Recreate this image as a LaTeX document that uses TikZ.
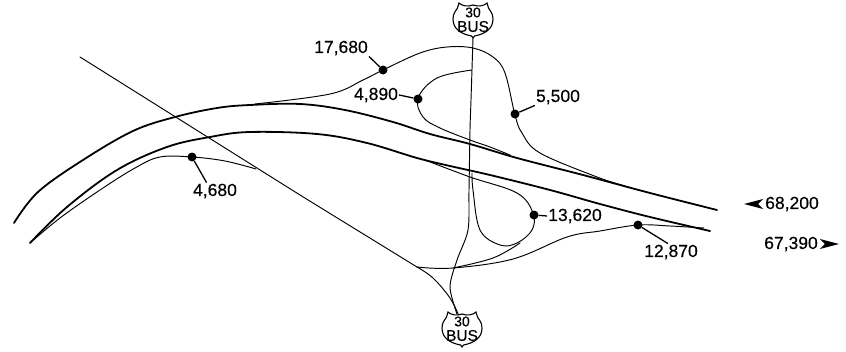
\documentclass[tikz,border=0pt]{standalone}
\usepackage{fontspec}
\setmainfont[FakeBold=0.35]{Liberation Sans}
\tikzset{
  road/.style={line width=1.8pt,line cap=round,line join=round},
  ramp/.style={line width=0.95pt,line cap=round,line join=round},
  leader/.style={line width=1.3pt},
  dotnode/.style={circle,fill=black,inner sep=0pt,minimum size=9pt},
  vol/.style={font=\fontsize{17.5}{18}\selectfont,inner sep=1pt,text=black},
  shieldtext/.style={inner sep=0pt,text=black},
  dirtip/.style={fill=black,draw=none},
  pics/shield/.style={code={
    \draw[line width=1.1pt,fill=white]
      (0,18) -- (-1.5,16) .. controls (-12,14) and (-20,9) .. (-20,-1)
      .. controls (-20,-7) and (-17,-9) .. (-15.5,-12) -- (-14,-17)
      .. controls (-11,-14) and (-5,-13) .. (0,-15)
      .. controls (5,-13) and (11,-14) .. (14,-17) -- (15.5,-12)
      .. controls (17,-9) and (20,-7) .. (20,-1)
      .. controls (20,9) and (12,14) .. (1.5,16) -- cycle;
    \node[shieldtext,font=\fontsize{14}{14}\selectfont] (-num) at (0,-7.5) {30};
    \node[shieldtext,font=\fontsize{15.5}{16}\selectfont] (-bus) at (0,6.5) {BUS};
  }}
}
\begin{document}
\begin{tikzpicture}[x=1pt,y=-1pt]
\useasboundingbox (0,0) rectangle (846,351);
% main carriageways
\draw[road] plot[smooth,tension=0.6] coordinates {(14,223) (38,192) (83,160) (133,131) (175,117) (217,108) (250,105) (300,104) (345,110) (393,122) (430,134) (470,144) (517,158) (583,175) (650,193) (717,210)};
\draw[road] plot[smooth,tension=0.6] coordinates {(30,243) (67,207) (117,170) (167,147) (210,137) (250,132) (317,134) (367,143) (417,158) (450,166) (490,175) (550,190) (600,204) (650,217) (710,231)};
% long diagonal and 4,680 ramp
\draw[ramp] (80,57) -- (300,195) -- (417,267);
\draw[ramp] plot[smooth,tension=0.6] coordinates {(30,243) (60,218) (100,190) (135,168) (160,157) (192,157) (225,161) (256,169)};
% south-side ramps
\draw[ramp] plot[smooth,tension=0.6] coordinates {(417,267) (453,268) (513,259) (567,237) (600,231) (638,225) (670,226) (704,228)};
\draw[ramp] plot[smooth,tension=0.6] coordinates {(417,267) (433,278) (450,298) (459,316)};
% vertical road
\draw[ramp] plot[smooth,tension=0.5] coordinates {(473,38) (471,100) (470,130) (469,190) (468,230) (457,260) (450,287) (457,314)};
% 13,620 loop
\draw[ramp] plot[smooth,tension=0.6] coordinates {(425,160) (470,177) (517,193) (533,213) (532,230) (517,243) (500,245) (480,230) (473,190) (472,173)};
\draw[ramp] plot[smooth,tension=0.6] coordinates {(520,243) (493,258) (453,268)};
% north-side ramps
\draw[ramp] plot[smooth,tension=0.6] coordinates {(255,104) (330,94) (363,80) (383,70) (420,53) (447,47) (473,48) (493,57) (505,73) (515,115) (522,133) (540,153) (597,177) (625,186)};
\draw[ramp] plot[smooth,tension=0.6] coordinates {(472,70) (437,78) (418,98) (423,117) (440,128) (470,140) (490,147) (510,155)};
% shields
\pic (north) at (473,20) {shield};
\pic (south) at (462,329) {shield};
% count points
\node[dotnode] (d17) at (383,70) {};
\node[dotnode] (d48) at (418,99) {};
\node[dotnode] (d55) at (515,114) {};
\node[dotnode] (d46) at (192,157) {};
\node[dotnode] (d13) at (534,215) {};
\node[dotnode] (d12) at (638,225) {};
% labels
\node[vol] (t17) at (341,48) {17,680};
\node[vol] (t48) at (376,95) {4,890};
\node[vol] (t55) at (558,97) {5,500};
\node[vol] (t46) at (215,191) {4,680};
\node[vol] (t13) at (575,216) {13,620};
\node[vol] (t12) at (671,252) {12,870};
\node[vol] (t68) at (792,204) {68,200};
\node[vol] (t67) at (791,244) {67,390};
% leaders
\draw[leader] (d17) -- (t17.south east);
\draw[leader] (d48) -- (t48.east);
\draw[leader] (d55) -- (t55.south west);
\draw[leader] (d46) -- (t46.135);
\draw[leader] (d13) -- (t13.west);
\draw[leader] (d12) -- (t12.110);
% direction arrows
\coordinate (a68) at ([xshift=-1pt]t68.west);
\coordinate (a67) at ([xshift=1pt]t67.east);
\fill[dirtip] (a68) ++(-19,0) -- ++(19,-5) -- ++(-5,5) -- ++(5,5) -- cycle;
\fill[dirtip] (a67) ++(19,0) -- ++(-19,-5) -- ++(5,5) -- ++(-5,5) -- cycle;
\end{tikzpicture}
\end{document}
